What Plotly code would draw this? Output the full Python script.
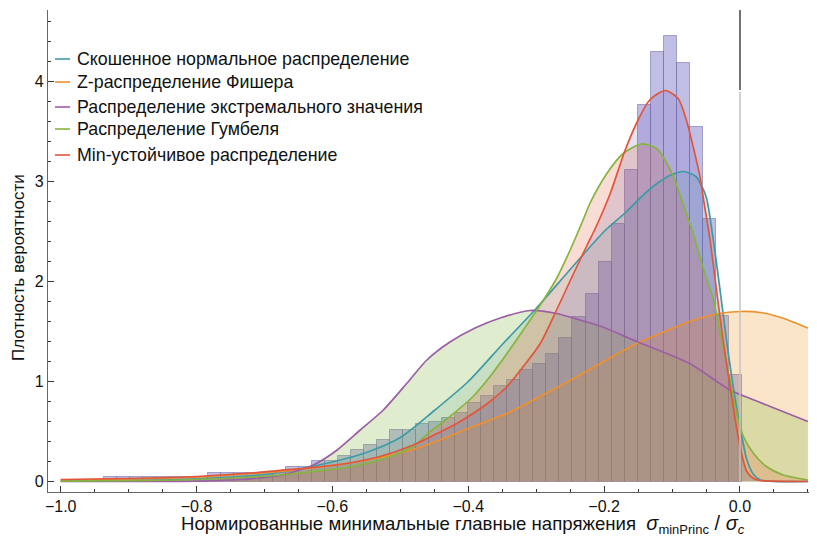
import plotly.graph_objects as go

# ---------------- data ----------------
bin_start = -0.9367
bin_width = 0.01917
hist_heights = [0.042, 0.042, 0.042, 0.042, 0.042, 0.042, 0.042, 0.042,
                0.09, 0.09, 0.09, 0.09, 0.09, 0.09,
                0.148, 0.148, 0.205, 0.205, 0.255, 0.315, 0.365, 0.42, 0.52, 0.52,
                0.58, 0.60, 0.635, 0.69, 0.79, 0.855, 0.955, 1.015, 1.12, 1.175,
                1.28, 1.44, 1.65, 1.875, 2.20, 2.58, 3.115, 3.765, 4.30, 4.46,
                4.19, 3.55, 2.63, 1.66, 1.065]

skew_x = [-1.0, -0.9, -0.8, -0.7, -0.65, -0.6, -0.55, -0.5, -0.45, -0.4, -0.35, -0.3,
          -0.25, -0.2, -0.17, -0.14, -0.12, -0.1, -0.083, -0.065, -0.05, -0.04, -0.03,
          -0.02, -0.01, 0.0, 0.01, 0.02, 0.03, 0.05, 0.1]
skew_y = [0.004, 0.01, 0.025, 0.07, 0.125, 0.195, 0.29, 0.44, 0.71, 1.0, 1.37, 1.73,
          2.12, 2.5, 2.68, 2.88, 2.99, 3.07, 3.10, 3.05, 2.85, 2.45, 1.95,
          1.42, 0.95, 0.55, 0.22, 0.07, 0.015, 0.0, 0.0]

fisher_x = [-1.0, -0.9, -0.8, -0.72, -0.677, -0.628, -0.579, -0.53, -0.481, -0.442, -0.393,
            -0.343, -0.294, -0.245, -0.206, -0.152, -0.123, -0.074, -0.034, 0.0, 0.03, 0.06, 0.1]
fisher_y = [0.015, 0.025, 0.045, 0.08, 0.10, 0.135, 0.18, 0.24, 0.32, 0.415, 0.55,
            0.68, 0.85, 1.03, 1.18, 1.38, 1.465, 1.6, 1.675, 1.70, 1.69, 1.64, 1.535]

extreme_x = [-1.0, -0.85, -0.8, -0.75, -0.7, -0.677, -0.658, -0.628, -0.593, -0.559, -0.525,
             -0.49, -0.461, -0.427, -0.39, -0.353, -0.309, -0.27, -0.236, -0.206,
             -0.152, -0.074, -0.015, 0.015, 0.039, 0.1]
extreme_y = [0.0, 0.0, 0.003, 0.015, 0.04, 0.06, 0.095, 0.165, 0.315, 0.515, 0.715,
             0.985, 1.215, 1.395, 1.535, 1.635, 1.71, 1.68, 1.615, 1.555,
             1.40, 1.18, 0.915, 0.83, 0.765, 0.6]

gumbel_x = [-1.0, -0.9, -0.8, -0.72, -0.677, -0.628, -0.579, -0.53, -0.481, -0.456, -0.44,
            -0.393, -0.368, -0.343, -0.319, -0.294, -0.27, -0.25, -0.231, -0.221, -0.196,
            -0.172, -0.145, -0.123, -0.1, -0.084, -0.069, -0.054, -0.039, -0.029, -0.015,
            -0.005, 0.005, 0.02, 0.039, 0.064, 0.1]
gumbel_y = [0.003, 0.008, 0.02, 0.045, 0.065, 0.10, 0.14, 0.215, 0.35, 0.50, 0.58,
            0.85, 1.05, 1.28, 1.515, 1.765, 2.03, 2.315, 2.615, 2.78, 3.08,
            3.28, 3.375, 3.33, 3.08, 2.78, 2.48, 2.13, 1.815, 1.48, 1.015,
            0.68, 0.45, 0.28, 0.15, 0.065, 0.015]

minstab_x = [-1.0, -0.9, -0.8, -0.72, -0.677, -0.628, -0.579, -0.53, -0.481, -0.44, -0.417,
             -0.393, -0.368, -0.343, -0.319, -0.294, -0.27, -0.245, -0.226, -0.211, -0.191,
             -0.169, -0.15, -0.133, -0.11, -0.091, -0.079, -0.069, -0.059, -0.052, -0.044,
             -0.039, -0.025, -0.01, 0.0, 0.01, 0.02, 0.03, 0.1]
minstab_y = [0.02, 0.03, 0.05, 0.085, 0.112, 0.14, 0.18, 0.25, 0.365, 0.50, 0.58,
             0.68, 0.80, 0.95, 1.15, 1.38, 1.715, 2.08, 2.35, 2.56, 2.88,
             3.315, 3.615, 3.815, 3.91, 3.83, 3.615, 3.35, 3.05, 2.75, 2.415,
             2.15, 1.42, 0.75, 0.35, 0.1, 0.03, 0.01, 0.0]

legend_names = ["Скошенное нормальное распределение",
                "Z-распределение Фишера",
                "Распределение экстремального значения",
                "Распределение Гумбеля",
                "Min-устойчивое распределение"]

x_ticks = [-1.0, -0.8, -0.6, -0.4, -0.2, 0.0]
y_ticks = [0, 1, 2, 3, 4]

# ---------------- styling ----------------
# the page body has an 8px margin, so the figure starts at (8, 8) in the window
OFF = 8
W, H = 817 - OFF, 537 - OFF
PL, PR, PT, PB = 48, 809, 10, 492          # plot area in window pixels
L, R, T, B = PL - OFF, 817 - PR, PT - OFF, 537 - PB
XR = [-1.0187, 0.1016]
YR = [-0.105, 4.715]
FONT = "Liberation Sans, Arial, sans-serif"

line_colors = ["#3f9aa8", "#ef8f2c", "#9b5fa5", "#86b43e", "#e2553b"]
fill_colors = ["rgba(70,150,170,0.16)", "rgba(235,150,40,0.25)",
               "rgba(140,185,75,0.28)", "rgba(232,110,70,0.24)",
               "rgba(80,70,170,0.15)"]

curves = [(skew_x, skew_y), (fisher_x, fisher_y), (extreme_x, extreme_y),
          (gumbel_x, gumbel_y), (minstab_x, minstab_y)]

fig = go.Figure()

centers = [bin_start + bin_width * (i + 0.5) for i in range(len(hist_heights))]
fig.add_trace(go.Bar(x=centers, y=hist_heights, width=bin_width,
                     marker=dict(color="rgba(125,120,200,0.48)",
                                 line=dict(color="rgba(110,105,160,0.55)", width=1)),
                     showlegend=False, hoverinfo="skip"))

for (cx, cy), fc in zip(curves, fill_colors):
    fig.add_trace(go.Scatter(x=cx, y=cy, mode="lines", fill="tozeroy", fillcolor=fc,
                             line=dict(width=0, shape="spline", smoothing=0.7),
                             showlegend=False, hoverinfo="skip"))
for (cx, cy), lc in zip(curves, line_colors):
    fig.add_trace(go.Scatter(x=cx, y=cy, mode="lines",
                             line=dict(color=lc, width=1.7, shape="spline", smoothing=0.7),
                             showlegend=False, hoverinfo="skip"))

pw, ph = PR - PL, PB - PT


def px_x(p):
    return (p - PL) / pw


def px_y(p):
    return (PB - p) / ph


shapes = [
    dict(type="line", xref="x", yref="y", x0=0, x1=0, y0=0, y1=3.9,
         line=dict(color="#c4c4c4", width=1.5), layer="above"),
    dict(type="line", xref="x", yref="paper", x0=0, x1=0, y0=px_y(90), y1=1,
         line=dict(color="#444444", width=1.5), layer="above"),
]
annotations = []
legend_rows = [59, 82, 107, 129, 155]
for name, lc, ry in zip(legend_names, line_colors, legend_rows):
    shapes.append(dict(type="line", xref="paper", yref="paper",
                       x0=px_x(55), x1=px_x(70), y0=px_y(ry), y1=px_y(ry),
                       line=dict(color=lc, width=1.6)))
    annotations.append(dict(xref="paper", yref="paper", x=px_x(75), y=px_y(ry),
                            xanchor="left", yanchor="middle", showarrow=False,
                            text=name, font=dict(family=FONT, size=17.8, color="#111")))

annotations.append(dict(
    xref="paper", yref="paper", x=px_x(463), y=px_y(524), xanchor="center", yanchor="middle",
    showarrow=False,
    text=('Нормированные минимальные главные напряжения&nbsp;&nbsp;'
          '<span style="font-size:20px"><i>σ</i></span><sub>minPrinc</sub>'
          '<span style="font-size:20px">&nbsp;/&nbsp;<i>σ</i></span><sub><i>c</i></sub>'),
    font=dict(family=FONT, size=18.6, color="#111")))
annotations.append(dict(
    xref="paper", yref="paper", x=px_x(18), y=px_y(268), xanchor="center", yanchor="middle",
    showarrow=False, textangle=-90, text="Плотность вероятности",
    font=dict(family=FONT, size=17, color="#111")))

fig.update_layout(
    width=W, height=H, margin=dict(l=L, r=R, t=T, b=B, pad=0),
    paper_bgcolor="white", plot_bgcolor="white", barmode="overlay", bargap=0,
    showlegend=False, shapes=shapes, annotations=annotations,
    font=dict(family=FONT, size=16, color="#111"),
    xaxis=dict(range=XR, showgrid=False, zeroline=False, showline=True,
               linecolor="#666", linewidth=1.2, ticks="inside", ticklen=6,
               tickcolor="#333", tickwidth=1, tickvals=x_ticks, tickformat=".1f",
               tickfont=dict(family=FONT, size=16, color="#111"),
               minor=dict(ticks="inside", dtick=0.05, tick0=0, ticklen=3,
                          tickcolor="#333", showgrid=False)),
    yaxis=dict(range=YR, showgrid=False, zeroline=False, showline=True,
               linecolor="#666", linewidth=1.2, ticks="inside", ticklen=6,
               tickcolor="#333", tickwidth=1, tickvals=y_ticks,
               tickfont=dict(family=FONT, size=16, color="#111"),
               minor=dict(ticks="inside", dtick=0.2, tick0=0, ticklen=3,
                          tickcolor="#333", showgrid=False)),
)

fig.write_html("out.html")
